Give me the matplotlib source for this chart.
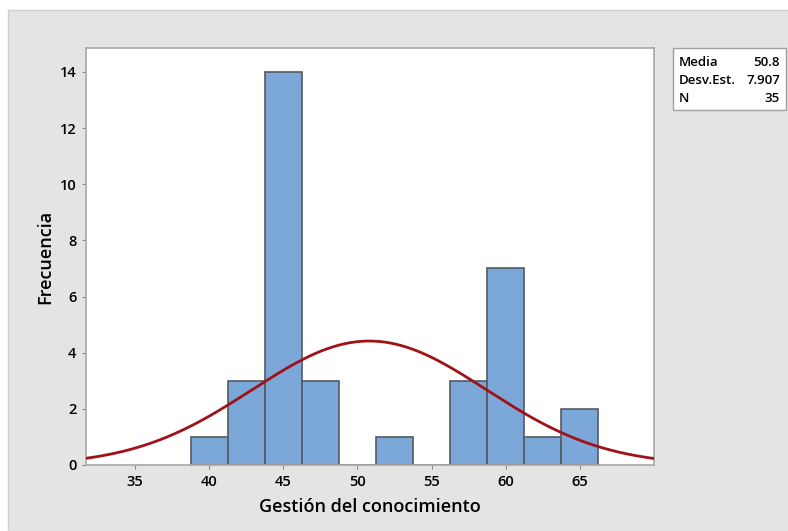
import matplotlib.pyplot as plt
import numpy as np
from matplotlib.patches import Rectangle

plt.rcParams["font.family"] = ["Open Sans", "DejaVu Sans"]

# histogram bins (center) and counts
bin_centers = [40, 42.5, 45, 47.5, 50, 52.5, 55, 57.5, 60, 62.5, 65]
counts = [1, 3, 14, 3, 0, 1, 0, 3, 7, 1, 2]
bin_width = 2.5

# summary stats shown in the box
media = 50.8
desv = 7.907
n = 35

fig = plt.figure(figsize=(7.88, 5.31), dpi=100)
fig.patch.set_facecolor("white")
fig.patches.append(Rectangle((8 / 788, 0), 1, (531 - 10) / 531, transform=fig.transFigure,
                             facecolor="#e4e4e4", edgecolor="#d0d0d0", lw=1, zorder=-10))

ax = fig.add_axes([86 / 788, 66 / 531, 568 / 788, 417 / 531])
ax.bar(bin_centers, counts, width=bin_width, color="#7BA7D9", edgecolor="#555a60", lw=1.2, zorder=2)

xs = np.linspace(31.7, 70, 300)
ys = n * bin_width * np.exp(-0.5 * ((xs - media) / desv) ** 2) / (desv * np.sqrt(2 * np.pi))
ax.plot(xs, ys, color="#a01218", lw=2, zorder=3)

ax.set_xlim(31.7, 70)
ax.set_ylim(0, 14.85)
ax.set_xticks([35, 40, 45, 50, 55, 60, 65])
ax.set_yticks([0, 2, 4, 6, 8, 10, 12, 14])
ax.tick_params(direction="out", length=3, color="#8a8a8a", labelsize=10.5, pad=4)
for lab in ax.get_xticklabels() + ax.get_yticklabels():
    lab.set_fontweight("semibold")
for sp in ax.spines.values():
    sp.set_color("#a8a8a8")
    sp.set_linewidth(1.2)

ax.set_xlabel("Gestión del conocimiento", fontsize=13, fontweight="semibold", labelpad=7)
ax.set_ylabel("Frecuencia", fontsize=13, fontweight="semibold", labelpad=4)

# stats box
fig.patches.append(Rectangle((673 / 788, (531 - 110) / 531), 113 / 788, 62 / 531,
                             transform=fig.transFigure, facecolor="white",
                             edgecolor="#a0a0a0", lw=1))
rows = [("Media", f"{media}"), ("Desv.Est.", f"{desv}"), ("N", f"{n}")]
for i, (k, v) in enumerate(rows):
    y = (531 - 62 - i * 18.5) / 531
    fig.text(679 / 788, y, k, fontsize=9.5, fontweight="semibold", va="center", ha="left")
    fig.text(780 / 788, y, v, fontsize=9.5, fontweight="semibold", va="center", ha="right")

fig.savefig("out.png", dpi=100)
